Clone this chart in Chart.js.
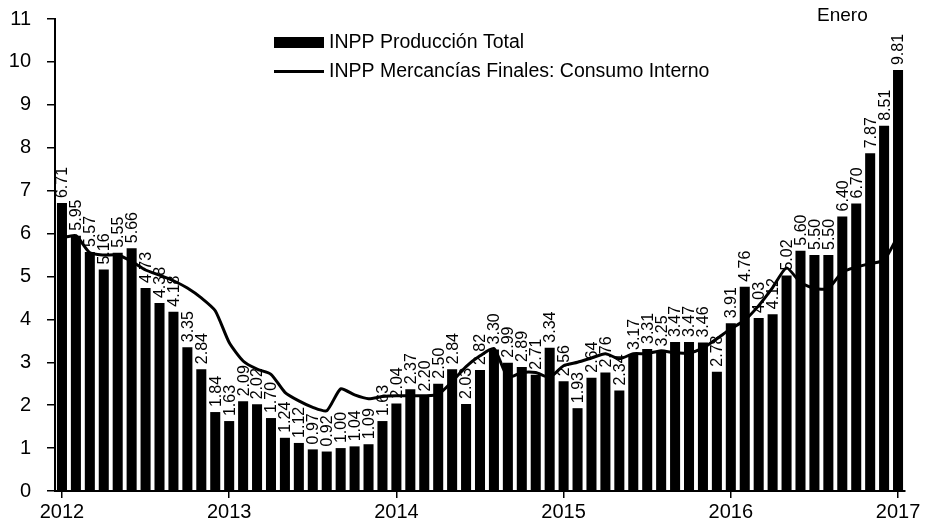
<!DOCTYPE html>
<html>
<head>
<meta charset="utf-8">
<script src="https://cdn.jsdelivr.net/npm/chart.js@4/dist/chart.umd.min.js"></script>
<style>
  body { margin: 0; background: #fff; }
  canvas { display: block; }
</style>
</head>
<body>
<canvas id="inppChart" width="932" height="524"></canvas>
<script>
// Etiquetas de años del eje X (enero de cada año)
const anios = ['2012', '2013', '2014', '2015', '2016', '2017'];
const meses = ['01', '02', '03', '04', '05', '06', '07', '08', '09', '10', '11', '12'];

// INPP Producción Total (barras), ene 2012 - ene 2017
const produccionTotal = [
    6.71, 5.95, 5.57, 5.16, 5.55, 5.66, 4.73, 4.38, 4.18, 3.35, 2.84, 1.84,
    1.63, 2.09, 2.02, 1.70, 1.24, 1.12, 0.97, 0.92, 1.00, 1.04, 1.09, 1.63,
    2.04, 2.37, 2.20, 2.50, 2.84, 2.03, 2.82, 3.30, 2.99, 2.89, 2.71, 3.34,
    2.56, 1.93, 2.64, 2.76, 2.34, 3.17, 3.31, 3.25, 3.47, 3.47, 3.46, 2.78,
    3.91, 4.76, 4.03, 4.12, 5.02, 5.60, 5.50, 5.50, 6.40, 6.70, 7.87, 8.51,
    9.81
];

// INPP Mercancías Finales: Consumo Interno (línea)
const consumoInterno = [
    5.90, 5.95, 5.55, 5.50, 5.50, 5.35, 5.15, 5.03, 4.90, 4.73, 4.50, 4.20,
    3.46, 3.03, 2.84, 2.72, 2.30, 2.10, 1.95, 1.87, 2.38, 2.24, 2.15, 2.20,
    2.22, 2.22, 2.22, 2.25, 2.55, 2.90, 3.15, 3.32, 2.65, 2.76, 2.76, 2.65,
    2.92, 3.00, 3.10, 3.20, 3.08, 3.20, 3.20, 3.27, 3.22, 3.22, 3.33, 3.55,
    3.78, 3.98, 4.32, 4.74, 5.20, 4.86, 4.72, 4.72, 5.10, 5.22, 5.30, 5.38,
    5.95
];

const nombreBarras = 'INPP Producción Total';
const nombreLinea = 'INPP Mercancías Finales: Consumo Interno';
const notaPeriodo = 'Enero';

// categorías mensuales (año-mes)
const categorias = [];
anios.forEach(function(a) {
    meses.forEach(function(m) {
        if (categorias.length < produccionTotal.length) categorias.push(a + '-' + m);
    });
});

const fuente = "'Liberation Sans', Arial, sans-serif";

// Etiquetas verticales sobre las barras
const etiquetasBarras = {
    id: 'etiquetasBarras',
    afterDatasetDraw: function(chart, args) {
        if (chart.data.datasets[args.index].type !== 'bar') return;
        const ctx = chart.ctx;
        ctx.save();
        ctx.fillStyle = '#000';
        ctx.font = '16px ' + fuente;
        ctx.textAlign = 'left';
        ctx.textBaseline = 'middle';
        args.meta.data.forEach(function(bar, i) {
            const valor = produccionTotal[i];
            ctx.save();
            ctx.translate(bar.x + 1, bar.y - 5);
            ctx.rotate(-Math.PI / 2);
            ctx.fillText(valor.toFixed(2), 0, 0);
            ctx.restore();
        });
        ctx.restore();
    }
};

// Leyenda y nota "Enero"
const leyenda = {
    id: 'leyenda',
    afterDraw: function(chart) {
        const ctx = chart.ctx;
        ctx.save();
        ctx.fillStyle = '#000';
        ctx.fillRect(274, 37, 50, 11);
        ctx.fillRect(274, 70, 50, 3);
        ctx.font = '19.5px ' + fuente;
        ctx.textBaseline = 'middle';
        ctx.textAlign = 'left';
        ctx.fillText(nombreBarras, 329, 43);
        ctx.fillText(nombreLinea, 329, 72);
        ctx.font = '19px ' + fuente;
        ctx.fillText(notaPeriodo, 817, 16);
        ctx.restore();
    }
};

new Chart(document.getElementById('inppChart').getContext('2d'), {
    data: {
        labels: categorias,
        datasets: [{
            type: 'bar',
            label: nombreBarras,
            data: produccionTotal,
            backgroundColor: '#000',
            barPercentage: 0.72,
            categoryPercentage: 1,
            order: 2
        }, {
            type: 'line',
            label: nombreLinea,
            data: consumoInterno,
            borderColor: '#000',
            borderWidth: 3,
            pointRadius: 0,
            tension: 0.2,
            fill: false,
            order: 1
        }]
    },
    options: {
        responsive: false,
        animation: false,
        devicePixelRatio: 1,
        layout: { padding: { top: 19, right: 27, left: 0, bottom: 0 } },
        plugins: {
            legend: { display: false },
            tooltip: { enabled: false }
        },
        scales: {
            x: {
                type: 'category',
                offset: true,
                afterFit: function(scale) { scale.height = 33; },
                border: { color: '#000', width: 2 },
                grid: {
                    offset: false,
                    drawOnChartArea: false,
                    tickLength: 7,
                    lineWidth: 1.5,
                    color: function(c) { return c.index % 12 === 0 ? '#000' : 'rgba(0,0,0,0)'; }
                },
                ticks: {
                    autoSkip: false,
                    maxRotation: 0,
                    minRotation: 0,
                    padding: 2,
                    color: '#000',
                    font: { size: 20, family: fuente },
                    callback: function(v, i) { return i % 12 === 0 ? anios[i / 12] : ''; }
                }
            },
            y: {
                min: 0,
                max: 11,
                afterFit: function(scale) {
                    scale.width = 55;
                    scale.paddingTop = 0;
                    scale.paddingBottom = 0;
                },
                border: { color: '#000', width: 2 },
                grid: { drawOnChartArea: false, tickLength: 8, color: '#000', lineWidth: 1.5 },
                ticks: {
                    stepSize: 1,
                    padding: 16,
                    color: '#000',
                    font: { size: 20, family: fuente }
                }
            }
        }
    },
    plugins: [etiquetasBarras, leyenda]
});
</script>
</body>
</html>
